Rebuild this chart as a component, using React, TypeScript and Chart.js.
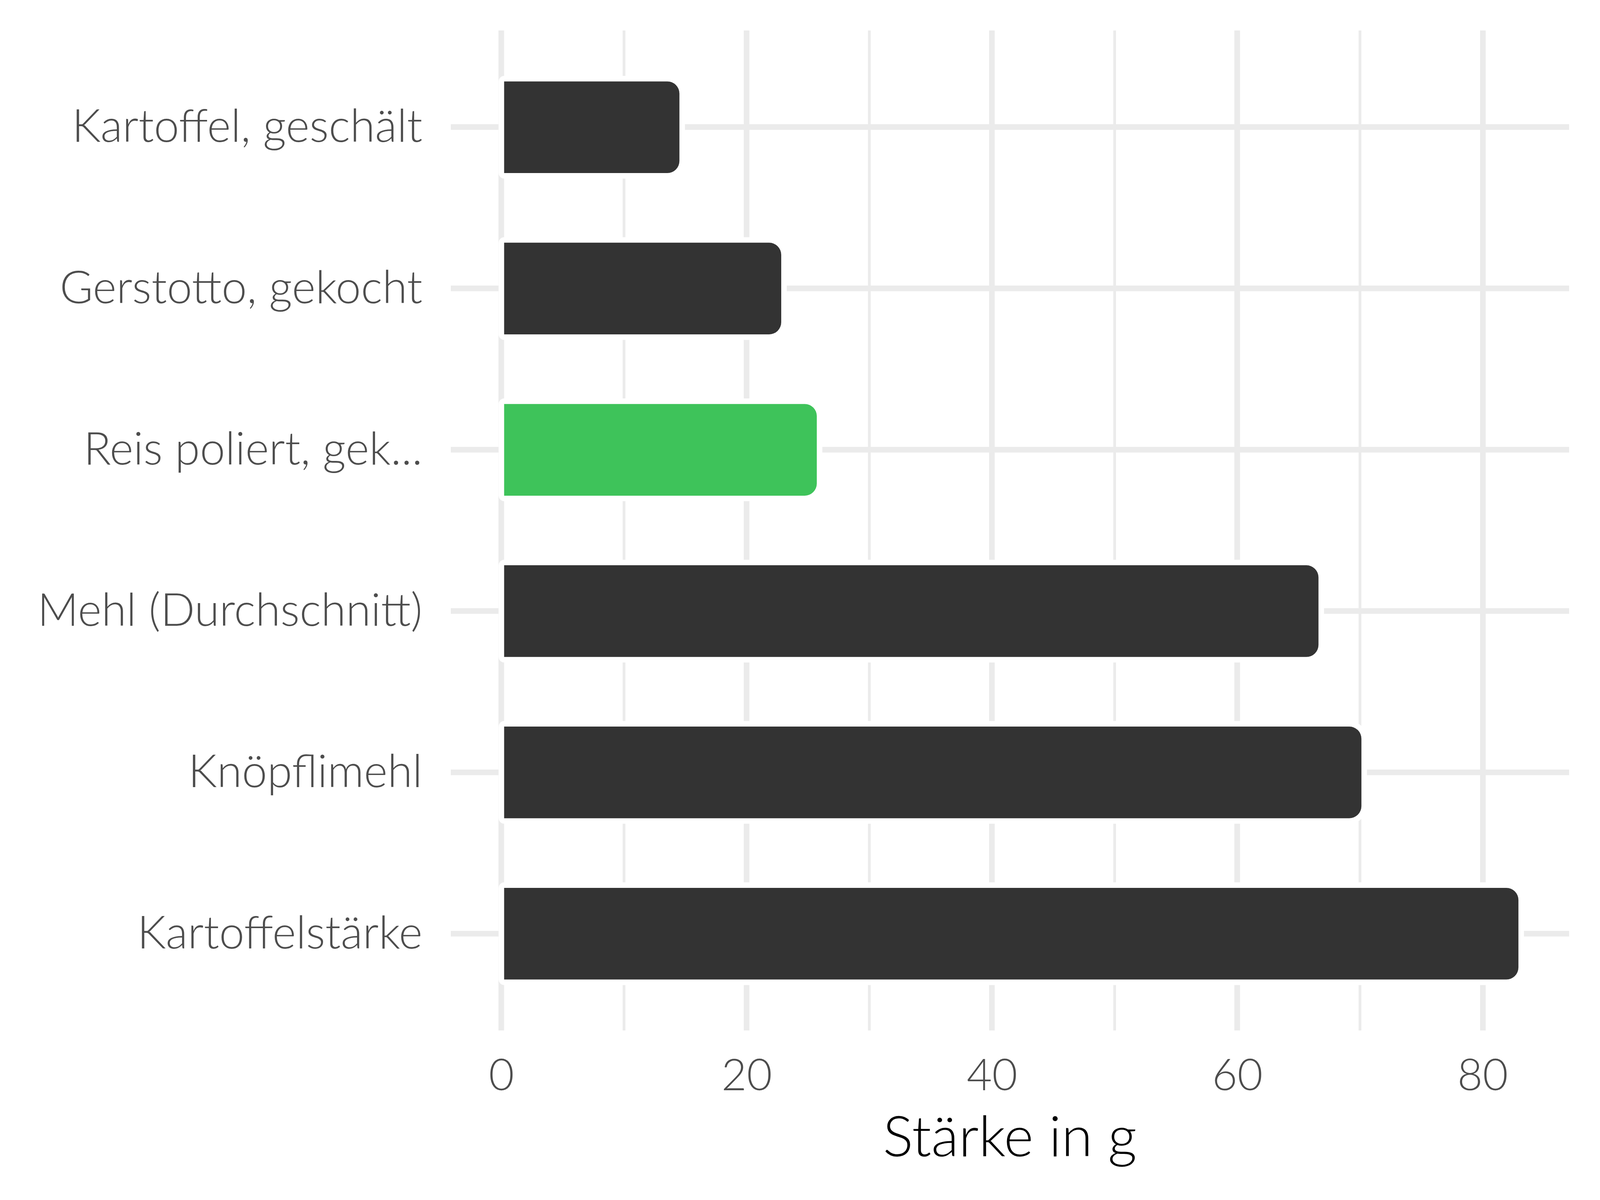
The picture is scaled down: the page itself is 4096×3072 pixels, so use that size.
import React, { useEffect, useRef } from "react";
import { Chart, registerables } from "chart.js";

Chart.register(...registerables);

const categories = [
  "Kartoffel, geschält",
  "Gerstotto, gekocht",
  "Reis poliert, gek...",
  "Mehl (Durchschnitt)",
  "Knöpflimehl",
  "Kartoffelstärke",
];
const values = [14.5, 22.8, 25.7, 66.6, 70.1, 82.9];
const barColors = ["#333333", "#333333", "#3EC35A", "#333333", "#333333", "#333333"];
const xTickLabels = [0, 20, 40, 60, 80];
const xTitle = "Stärke in g";

const W = 4096;
const H = 3072;
const FONT = "Lato";
const HALO = 14.5;
const RADIUS = 31;

const haloPlugin = {
  id: "halo",
  beforeDatasetsDraw(chart: any) {
    const ctx = chart.ctx;
    const meta = chart.getDatasetMeta(0);
    ctx.save();
    ctx.fillStyle = "#FFFFFF";
    meta.data.forEach((el: any) => {
      const p = el.getProps(["x", "y", "base", "height"], true);
      const left = Math.min(p.x, p.base) - HALO;
      const w = Math.abs(p.x - p.base) + 2 * HALO;
      const top = p.y - p.height / 2 - HALO;
      const h = p.height + 2 * HALO;
      ctx.beginPath();
      ctx.roundRect(left, top, w, h, [HALO, RADIUS + HALO, RADIUS + HALO, HALO]);
      ctx.fill();
    });
    ctx.restore();
  },
};

export default function App() {
  const ref = useRef<HTMLCanvasElement | null>(null);

  useEffect(() => {
    let chart: Chart | null = null;
    let cancelled = false;
    const make = () => {
      if (cancelled || !ref.current) return;
      chart = new Chart(ref.current, {
        type: "bar",
        data: {
          datasets: [
            {
              data: values.map((v, i) => ({ x: v, y: i })),
              backgroundColor: barColors,
              borderWidth: 0,
              borderRadius: RADIUS,
              borderSkipped: "start",
              barThickness: 234,
            } as any,
          ],
        },
        plugins: [haloPlugin],
        options: {
          indexAxis: "y",
          animation: false,
          responsive: false,
          devicePixelRatio: 1,
          layout: { padding: { left: 0, top: 78, right: 79, bottom: 0 } },
          plugins: {
            legend: { display: false },
            tooltip: { enabled: false },
          },
          scales: {
            x: {
              type: "linear",
              min: -4.145,
              max: 87.045,
              offset: false,
              border: { display: false },
              grid: {
                color: "#EBEBEB",
                drawTicks: false,
                offset: false,
                lineWidth: (ctx: any) =>
                  ctx.tick && Math.round(ctx.tick.value) % 20 === 0 ? 14.5 : 7,
              },
              ticks: {
                stepSize: 10,
                includeBounds: false,
                autoSkip: false,
                maxRotation: 0,
                padding: 50,
                color: "#4D4D4D",
                font: { family: FONT, size: 112, weight: 300 },
                callback: (v: any) => {
                  const n = Math.round(Number(v));
                  return xTickLabels.includes(n) && Math.abs(Number(v) - n) < 1e-6 ? String(n) : "";
                },
              },
              title: {
                display: true,
                text: xTitle,
                color: "#000000",
                font: { family: FONT, size: 145, weight: 300 },
                padding: { top: 0, bottom: 72 },
              },
              afterFit: (scale: any) => {
                scale.height = 434;
                scale.paddingLeft = 0;
                scale.paddingRight = 0;
              },
            },
            y: {
              type: "linear",
              min: -0.6,
              max: 5.6,
              reverse: true,
              offset: false,
              border: { display: false },
              grid: {
                color: "#EBEBEB",
                drawTicks: false,
                offset: false,
                lineWidth: 14.5,
              },
              ticks: {
                stepSize: 1,
                includeBounds: false,
                autoSkip: false,
                padding: 72,
                color: "#4D4D4D",
                font: { family: FONT, size: 116, weight: 300 },
                callback: (v: any) => {
                  const n = Math.round(Number(v));
                  return Math.abs(Number(v) - n) < 1e-6 && categories[n] !== undefined ? categories[n] : "";
                },
              },
              afterFit: (scale: any) => {
                scale.width = 1153.5;
                scale.paddingTop = 0;
                scale.paddingBottom = 0;
              },
            },
          },
        } as any,
      });
    };
    const fontsReady = (document as any).fonts
      ? Promise.all([
          (document as any).fonts.load(`300 116px ${FONT}`),
          (document as any).fonts.load(`300 145px ${FONT}`),
        ]).catch(() => null)
      : Promise.resolve(null);
    fontsReady.then(make);
    return () => {
      cancelled = true;
      if (chart) chart.destroy();
    };
  }, []);

  return (
    <div
      style={{
        position: "fixed",
        left: 0,
        top: 0,
        width: W,
        height: H,
        background: "#FFFFFF",
      }}
    >
      <canvas ref={ref} width={W} height={H} style={{ width: W, height: H, display: "block" }} />
    </div>
  );
}
